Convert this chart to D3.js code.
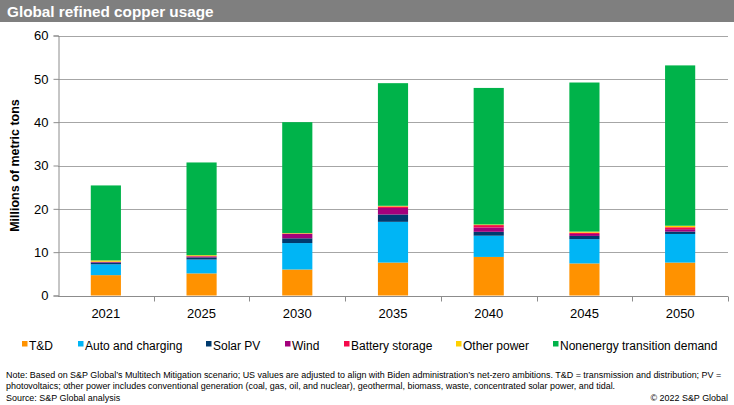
<!DOCTYPE html>
<html lang="en">
  <head>
    <meta charset="UTF-8" />
    <title>Global refined copper usage</title>
    <script src="https://d3js.org/d3.v7.min.js"></script>
    <style>
      body {
        margin: 0;
        background: #fff;
        font-family: "Liberation Sans", Arial, sans-serif;
      }
      .grid line {
        stroke: #a6a6a6;
        stroke-width: 1px;
      }
      .axis text {
        font: 13px "Liberation Sans", Arial, sans-serif;
        fill: #000;
      }
      .legend text {
        font: 12px "Liberation Sans", Arial, sans-serif;
        fill: #000;
      }
      .note {
        font-family: "Liberation Sans", Arial, sans-serif;
        fill: #000;
      }
    </style>
  </head>
  <body>
    <svg width="734" height="405"></svg>

    <script>
      const years = ["2021", "2025", "2030", "2035", "2040", "2045", "2050"];
      const seriesNames = [
        "T&D",
        "Auto and charging",
        "Solar PV",
        "Wind",
        "Battery storage",
        "Other power",
        "Nonenergy transition demand",
      ];
      const tdValues = [4.7, 5.1, 6.0, 7.6, 8.9, 7.4, 7.6];
      const autoValues = [2.5, 3.2, 6.1, 9.4, 4.9, 5.6, 6.6];
      const solarValues = [0.4, 0.5, 1.1, 1.7, 0.9, 0.75, 0.55];
      const windValues = [0.15, 0.2, 1.0, 1.5, 1.0, 0.45, 0.55];
      const batteryValues = [0.05, 0.1, 0.1, 0.35, 0.55, 0.3, 0.45];
      const otherValues = [0.3, 0.2, 0.1, 0.15, 0.15, 0.25, 0.35];
      const nonenergyValues = [17.3, 21.4, 25.6, 28.3, 31.5, 34.4, 37.0];
      const yTicks = [0, 10, 20, 30, 40, 50, 60];
      const colors = [
        "#ff9200",
        "#00b5f5",
        "#003a6e",
        "#a3007c",
        "#f50a4b",
        "#ffd100",
        "#00b34a",
      ];

      const allSeries = [
        tdValues,
        autoValues,
        solarValues,
        windValues,
        batteryValues,
        otherValues,
        nonenergyValues,
      ];

      const rows = years.map((y, i) => {
        const row = { year: y };
        seriesNames.forEach((s, j) => (row[s] = allSeries[j][i]));
        return row;
      });

      const svg = d3.select("svg");
      const margin = { left: 58, right: 6, top: 35.5, bottom: 109.5 };
      const width = 734;
      const height = 405;

      // title bar
      svg
        .append("rect")
        .attr("x", 0)
        .attr("y", 0)
        .attr("width", width)
        .attr("height", 22)
        .attr("fill", "#7f7f7f");
      svg
        .append("text")
        .attr("x", 7)
        .attr("y", 16.5)
        .attr("fill", "#fff")
        .style("font", "bold 15.3px 'Liberation Sans', Arial, sans-serif")
        .text("Global refined copper usage");

      const x = d3
        .scaleBand()
        .domain(years)
        .range([margin.left, width - margin.right])
        .paddingInner(0.685)
        .paddingOuter(0.3425);

      const y = d3
        .scaleLinear()
        .domain([0, 60])
        .range([height - margin.bottom, margin.top]);

      // gridlines
      svg
        .append("g")
        .attr("class", "grid")
        .selectAll("line")
        .data(yTicks.filter((t) => t > 0))
        .enter()
        .append("line")
        .attr("x1", margin.left)
        .attr("x2", width - margin.right)
        .attr("y1", (d) => Math.round(y(d)) + 0.5)
        .attr("y2", (d) => Math.round(y(d)) + 0.5);

      const stack = d3.stack().keys(seriesNames);
      const stacked = stack(rows);

      svg
        .append("g")
        .selectAll("g")
        .data(stacked)
        .enter()
        .append("g")
        .attr("fill", (d, i) => colors[i])
        .selectAll("rect")
        .data((d) => d)
        .enter()
        .append("rect")
        .attr("x", (d) => x(d.data.year))
        .attr("width", x.bandwidth())
        .attr("y", (d) => y(d[1]))
        .attr("height", (d) => y(d[0]) - y(d[1]));

      // y axis
      const yAxis = svg
        .append("g")
        .attr("class", "axis")
        .attr("transform", `translate(${margin.left + 0.5},0)`)
        .call(
          d3
            .axisLeft(y)
            .tickValues(yTicks)
            .tickSize(5)
            .tickPadding(5)
        );
      yAxis.selectAll("line, path").attr("stroke", "#8c8c8c");

      // x axis with ticks between categories
      const xAxisY = Math.round(y(0)) + 0.5;
      const xAxis = svg.append("g").attr("class", "axis");
      xAxis
        .append("line")
        .attr("x1", margin.left)
        .attr("x2", width - margin.right)
        .attr("y1", xAxisY)
        .attr("y2", xAxisY)
        .attr("stroke", "#8c8c8c");
      const step = x.step();
      xAxis
        .selectAll(".sep")
        .data(years.slice(1).concat(["end"]))
        .enter()
        .append("line")
        .attr("x1", (d, i) => Math.round(margin.left + step * (i + 1)) + 0.5)
        .attr("x2", (d, i) => Math.round(margin.left + step * (i + 1)) + 0.5)
        .attr("y1", xAxisY)
        .attr("y2", xAxisY + 5)
        .attr("stroke", "#8c8c8c");
      xAxis
        .selectAll(".lbl")
        .data(years)
        .enter()
        .append("text")
        .attr("x", (d) => x(d) + x.bandwidth() / 2)
        .attr("y", xAxisY + 21)
        .attr("text-anchor", "middle")
        .text((d) => d);

      // y axis title
      svg
        .append("text")
        .attr("transform", `translate(19,${(y(0) + y(60)) / 2}) rotate(-90)`)
        .attr("text-anchor", "middle")
        .style("font", "bold 12.5px 'Liberation Sans', Arial, sans-serif")
        .text("Millions of metric tons");

      // legend
      const legendX = [22, 78, 206, 285, 344, 456, 553];
      const legend = svg
        .append("g")
        .attr("class", "legend")
        .selectAll("g")
        .data(seriesNames)
        .enter()
        .append("g")
        .attr("transform", (d, i) => `translate(${legendX[i]},341)`);
      legend
        .append("rect")
        .attr("width", 5.5)
        .attr("height", 5.5)
        .attr("fill", (d, i) => colors[i]);
      legend
        .append("text")
        .attr("x", 7)
        .attr("y", 8.5)
        .text((d) => d);

      // notes
      const notes = [
        "Note: Based on S&P Global\u2019s Multitech Mitigation scenario; US values are adjusted to align with Biden administration\u2019s net-zero ambitions. T&D = transmission and distribution; PV =",
        "photovoltaics; other power includes conventional generation (coal, gas, oil, and nuclear), geothermal, biomass, waste, concentrated solar power, and tidal.",
        "Source: S&P Global analysis",
      ];
      const noteText = svg
        .selectAll(".noteline")
        .data(notes)
        .enter()
        .append("text")
        .attr("class", "note")
        .attr("x", 6)
        .attr("y", (d, i) => 378 + i * 11.3)
        .style("font-size", "10px")
        .text((d) => d);
      // shrink the note so its first line ends where the reference does
      const firstW = noteText.node().getComputedTextLength();
      const noteSize = (10 * 716) / firstW;
      noteText.style("font-size", noteSize + "px");
      svg
        .append("text")
        .attr("class", "note")
        .attr("x", 728)
        .attr("y", 400.6)
        .attr("text-anchor", "end")
        .style("font-size", noteSize + "px")
        .text("\u00a9 2022 S&P Global");
    </script>
  </body>
</html>
